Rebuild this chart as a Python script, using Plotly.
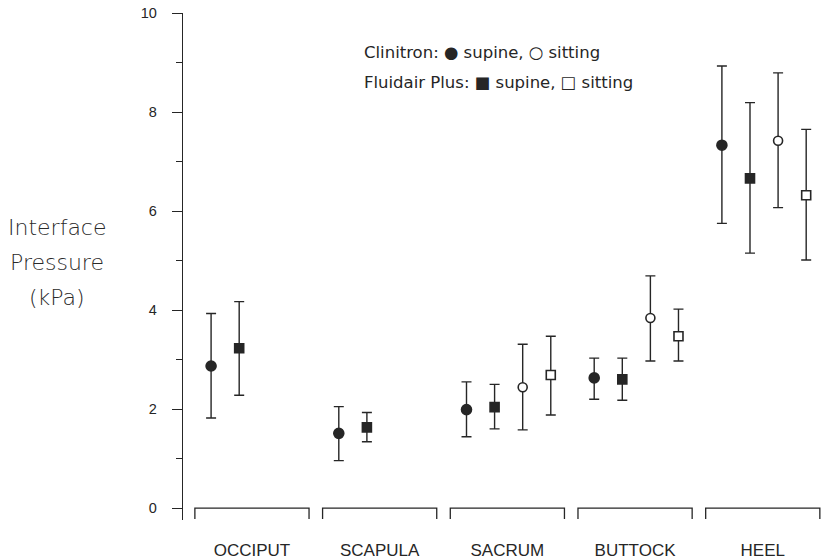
import plotly.graph_objects as go

categories = ["OCCIPUT", "SCAPULA", "SACRUM", "BUTTOCK", "HEEL"]

clin_sup = [2.87, 1.51, 1.99, 2.63, 7.33]
clin_sup_hi = [3.93, 2.05, 2.55, 3.03, 8.93]
clin_sup_lo = [1.82, 0.96, 1.44, 2.20, 5.75]

fluid_sup = [3.23, 1.63, 2.04, 2.60, 6.66]
fluid_sup_hi = [4.17, 1.93, 2.50, 3.03, 8.19]
fluid_sup_lo = [2.28, 1.34, 1.60, 2.18, 5.15]

clin_sit = [None, None, 2.44, 3.84, 7.42]
clin_sit_hi = [None, None, 3.31, 4.69, 8.79]
clin_sit_lo = [None, None, 1.58, 2.97, 6.07]

fluid_sit = [None, None, 2.69, 3.47, 6.32]
fluid_sit_hi = [None, None, 3.47, 4.02, 7.65]
fluid_sit_lo = [None, None, 1.88, 2.97, 5.01]

y_ticks = [0, 2, 4, 6, 8, 10]

INK = "#262626"
FONT = "Liberation Sans, Arial, sans-serif"

W, H = 823, 560
ML, MR, MT, MB = 183, 2, 13, 40
PW = W - ML - MR
PH = H - MT - MB


def px_x(px):  # screen x -> paper
    return (px - ML) / PW


def px_y(py):  # screen y -> paper
    return (H - MB - py) / PH


series = [
    (clin_sup, clin_sup_hi, clin_sup_lo, -0.32, "circle", INK, 10),
    (fluid_sup, fluid_sup_hi, fluid_sup_lo, -0.10, "square", INK, 9),
    (clin_sit, clin_sit_hi, clin_sit_lo, 0.12, "circle", "white", 9),
    (fluid_sit, fluid_sit_hi, fluid_sit_lo, 0.34, "square", "white", 9),
]

fig = go.Figure()
for vals, hi, lo, off, sym, fill, size in series:
    xs, ys, ep, em = [], [], [], []
    for i, v in enumerate(vals):
        if v is None:
            continue
        xs.append(i + off)
        ys.append(v)
        ep.append(hi[i] - v)
        em.append(v - lo[i])
    fig.add_trace(go.Scatter(
        x=xs, y=ys, mode="markers", showlegend=False,
        marker=dict(symbol=sym, size=size, color=fill,
                    line=dict(color=INK, width=1.6)),
        error_y=dict(type="data", symmetric=False, array=ep, arrayminus=em,
                     color=INK, thickness=1.4, width=5),
    ))

# category brackets beneath the zero line
for i, _ in enumerate(categories):
    x0, x1 = i - 0.447, i + 0.447
    fig.add_shape(type="path",
                  path=f"M {x0} -0.22 L {x0} 0 L {x1} 0 L {x1} -0.22",
                  xref="x", yref="y", line=dict(color=INK, width=1.3))

# legend text
LEG_FONT = dict(family="DejaVu Sans", size=16.5, color=INK)
fig.add_annotation(xref="paper", yref="paper", x=px_x(362), y=px_y(53),
                   xanchor="left", yanchor="middle", showarrow=False,
                   text="Clinitron: \u25cf supine, \u25cb sitting", font=LEG_FONT)
fig.add_annotation(xref="paper", yref="paper", x=px_x(362), y=px_y(82),
                   xanchor="left", yanchor="middle", showarrow=False,
                   text="Fluidair Plus: \u25a0 supine, \u25a1 sitting", font=LEG_FONT)

# y-axis title (horizontal, three lines)
for txt, ypx in [("Interface", 227), ("Pressure", 262), ("(kPa)", 297)]:
    fig.add_annotation(xref="paper", yref="paper",
                       x=px_x(57), y=px_y(ypx),
                       xanchor="center", yanchor="middle", showarrow=False,
                       text=txt,
                       font=dict(family="DejaVu Sans", size=22, color="#2a2a2a", weight=300))

fig.update_layout(
    width=W, height=H,
    margin=dict(l=ML, r=MR, t=MT, b=MB, autoexpand=False),
    paper_bgcolor="white", plot_bgcolor="white",
    font=dict(family=FONT, color=INK),
    xaxis=dict(range=[-0.54, 4.456], showline=False, showgrid=False, zeroline=False,
               tickvals=list(range(len(categories))), ticktext=categories,
               ticks="", ticklabelstandoff=18,
               tickfont=dict(family=FONT, size=17, color=INK)),
    yaxis=dict(range=[-0.24, 10], showline=True, linecolor=INK, linewidth=1.4,
               showgrid=False, zeroline=False,
               tickvals=y_ticks, ticks="outside", ticklen=10, tickwidth=1.3,
               tickcolor=INK, ticklabelstandoff=12,
               tickfont=dict(family=FONT, size=14.5, color=INK),
               minor=dict(dtick=1, tick0=0, ticks="outside", ticklen=6,
                          tickwidth=1.3, tickcolor=INK, showgrid=False)),
)

# remove the default 8px page margin so the figure fills the window exactly
fig.write_html("out.html", config={"displayModeBar": False},
               post_script="document.body.style.margin='0';document.body.style.overflow='hidden';")
